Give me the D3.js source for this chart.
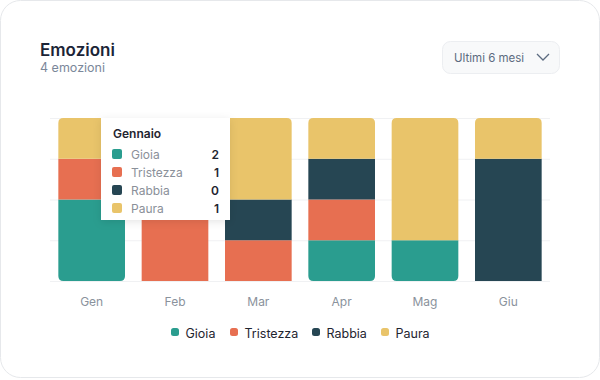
<!DOCTYPE html>
<meta charset="utf-8">
<head>
<style>
  body { margin: 0; background: #fff; font-family: Inter, "Noto Sans", sans-serif; }
  svg { display: block; }
</style>
</head>
<body>
<div id="chart"></div>
<script src="https://d3js.org/d3.v7.min.js"></script>
<script>
// data
const months = ["Gen", "Feb", "Mar", "Apr", "Mag", "Giu"];
const emotions = ["Gioia", "Tristezza", "Rabbia", "Paura"];
const colors = ["#2a9d8f", "#e76f51", "#264653", "#e9c46a"];
const gioia     = [2, 0, 0, 1, 1, 0];
const tristezza = [1, 4, 1, 1, 0, 0];
const rabbia    = [0, 0, 1, 1, 0, 3];
const paura     = [1, 0, 2, 1, 3, 1];
const yTicks = [0, 1, 2, 3, 4];
const tooltipTitle = "Gennaio";

const W = 600, H = 380;
const svg = d3.select("#chart").append("svg")
    .attr("width", W).attr("height", H);

// card
svg.append("rect")
    .attr("x", 0.5).attr("y", 0.5)
    .attr("width", W - 1).attr("height", H - 3)
    .attr("rx", 20)
    .attr("fill", "#fff")
    .attr("stroke", "#e6e8eb");

// header
svg.append("text")
    .attr("x", 40).attr("y", 56)
    .attr("font-size", "17px").attr("font-weight", 600)
    .attr("fill", "#1b2437")
    .text("Emozioni");
svg.append("text")
    .attr("x", 40).attr("y", 72)
    .attr("font-size", "12.5px")
    .attr("fill", "#7b879a")
    .text("4 emozioni");

// dropdown
svg.append("rect")
    .attr("x", 442.5).attr("y", 41.5)
    .attr("width", 117).attr("height", 32)
    .attr("rx", 8)
    .attr("fill", "#f8f9fa").attr("stroke", "#eceef1");
svg.append("text")
    .attr("x", 454).attr("y", 62)
    .attr("font-size", "11.5px")
    .attr("fill", "#5c6b80")
    .text("Ultimi 6 mesi");
svg.append("path")
    .attr("d", "M537,54 L543,60 L549,54")
    .attr("fill", "none").attr("stroke", "#5c6b80")
    .attr("stroke-width", 1.3);

// scales
const x = d3.scaleBand().domain(months).range([50, 550]).paddingInner(0.2).paddingOuter(0.1);
const y = d3.scaleLinear().domain([0, 4]).range([281, 118]);

// grid
svg.append("g")
    .attr("transform", "translate(50,0)")
    .call(d3.axisLeft(y).tickValues(yTicks).tickSize(-500).tickFormat(""))
    .call(g => g.select(".domain").remove())
    .call(g => g.selectAll("line").attr("stroke", "#f0f1f3"));

// stacked data
const rows = months.map((m, i) => ({
    month: m, Gioia: gioia[i], Tristezza: tristezza[i], Rabbia: rabbia[i], Paura: paura[i]
}));
const series = d3.stack().keys(emotions)(rows);
const color = d3.scaleOrdinal().domain(emotions).range(colors);

// rect path with optional rounded top / bottom
function segPath(x0, y0, w, h, rt, rb) {
    return `M${x0},${y0 + rt}` +
        (rt ? `Q${x0},${y0} ${x0 + rt},${y0}` : "") +
        `L${x0 + w - rt},${y0}` +
        (rt ? `Q${x0 + w},${y0} ${x0 + w},${y0 + rt}` : "") +
        `L${x0 + w},${y0 + h - rb}` +
        (rb ? `Q${x0 + w},${y0 + h} ${x0 + w - rb},${y0 + h}` : "") +
        `L${x0 + rb},${y0 + h}` +
        (rb ? `Q${x0},${y0 + h} ${x0},${y0 + h - rb}` : "") + "Z";
}

svg.append("g").selectAll("g")
    .data(series)
    .join("g")
    .attr("fill", d => color(d.key))
    .selectAll("path")
    .data(d => d.map(v => Object.assign(v, { key: d.key })))
    .join("path")
    .attr("d", d => {
        if (d[1] - d[0] <= 0) return null;
        const rt = d.key === "Paura" ? 5 : 0;
        const rb = d.key === "Gioia" ? 5 : 0;
        return segPath(x(d.data.month), y(d[1]), x.bandwidth(), y(d[0]) - y(d[1]), rt, rb);
    });

// x axis labels
svg.append("g")
    .attr("transform", "translate(0,281)")
    .call(d3.axisBottom(x).tickSize(0).tickPadding(16))
    .call(g => g.select(".domain").remove())
    .call(g => g.selectAll("text")
        .attr("font-family", "Inter, sans-serif")
        .attr("font-size", "12px")
        .attr("fill", "#8a929c"));

// legend
const legendX = [171, 230, 312, 381];
const leg = svg.append("g").selectAll("g")
    .data(emotions)
    .join("g")
    .attr("transform", (d, i) => `translate(${legendX[i]},333)`);
leg.append("rect")
    .attr("x", 0).attr("y", -5)
    .attr("width", 8).attr("height", 8).attr("rx", 2.5)
    .attr("fill", d => color(d));
leg.append("text")
    .attr("x", 14.5).attr("y", 4.5)
    .attr("font-size", "12.5px")
    .attr("fill", "#1f2530")
    .text(d => d);

// tooltip for Gennaio
const defs = svg.append("defs");
const f = defs.append("filter").attr("id", "shadow")
    .attr("x", "-20%").attr("y", "-20%").attr("width", "140%").attr("height", "150%");
f.append("feDropShadow").attr("dx", 0).attr("dy", 2).attr("stdDeviation", 4)
    .attr("flood-color", "#000").attr("flood-opacity", 0.1);

const tip = svg.append("g").attr("transform", "translate(101,118)");
tip.append("rect")
    .attr("width", 129).attr("height", 102)
    .attr("fill", "#fff")
    .attr("filter", "url(#shadow)");
tip.append("text")
    .attr("x", 12).attr("y", 20)
    .attr("font-size", "12px").attr("font-weight", 600)
    .attr("fill", "#1f2530")
    .text(tooltipTitle);
const janVals = [gioia[0], tristezza[0], rabbia[0], paura[0]];
const trow = tip.selectAll("g.row")
    .data(emotions)
    .join("g")
    .attr("class", "row")
    .attr("transform", (d, i) => `translate(0,${36 + i * 18})`);
trow.append("rect")
    .attr("x", 11).attr("y", -5)
    .attr("width", 10).attr("height", 10).attr("rx", 2)
    .attr("fill", d => color(d));
trow.append("text")
    .attr("x", 30).attr("y", 4.5)
    .attr("font-size", "12px")
    .attr("fill", "#8a9099")
    .text(d => d);
trow.append("text")
    .attr("x", 118).attr("y", 4.5)
    .attr("text-anchor", "end")
    .attr("font-size", "12px").attr("font-weight", 600)
    .attr("fill", "#1f2530")
    .text((d, i) => janVals[i]);
</script>
</body>
